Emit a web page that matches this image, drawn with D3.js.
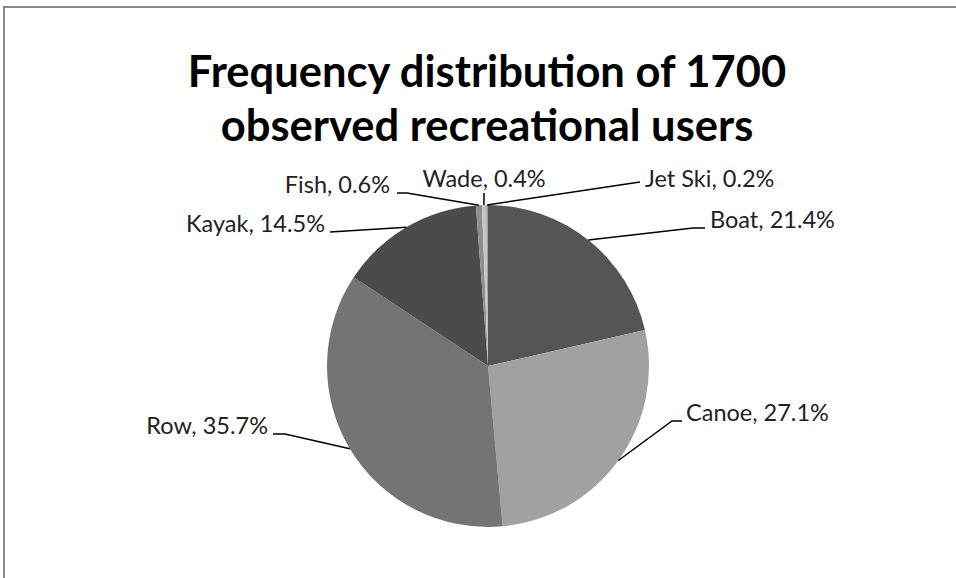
<!DOCTYPE html>
<html>
<head>
<meta charset="utf-8">
<script src="https://cdn.jsdelivr.net/npm/d3@7"></script>
<style>
  html, body { margin: 0; padding: 0; background: #fff; }
  svg { display: block; }
</style>
</head>
<body>
<svg id="chart" width="956" height="578"></svg>
<script>
// ---- data ----
const categories = ["Boat", "Canoe", "Row", "Kayak", "Fish", "Wade", "Jet Ski"];
const percents   = [21.4, 27.1, 35.7, 14.5, 0.6, 0.4, 0.2];
const titleLines = ["Frequency distribution of 1700", "observed recreational users"];

// ---- styles / layout (not data) ----
const sliceColors = ["#555555", "#a1a1a1", "#747474", "#4b4b4b", "#8e8e8e", "#c6c6c6", "#a3a3a3"];
// label layout: elbow offset & line end relative to pie centre
const labelLayout = [
  { elbow: [205, -138], end: [217, -138], anchor: "start", dx: 5 },   // Boat
  { elbow: [184, 55],   end: [194, 55],   anchor: "start", dx: 4 },   // Canoe
  { elbow: [-203, 68],  end: [-215, 68],  anchor: "end",   dx: -5 },  // Row
  { elbow: [-158, -134],end: [-158, -134],anchor: "end",   dx: -5 },  // Kayak
  { elbow: [-81, -173], end: [-91, -173], anchor: "end",   dx: -7 },  // Fish
  { elbow: [-4, -173],  end: [-4, -173],  anchor: "middle",dx: 0, dy: -6 }, // Wade
  { elbow: [152, -184], end: [152, -184], anchor: "start", dx: 5, dy: 5 }   // Jet Ski
];

const svg = d3.select("#chart");
const W = 956, H = 578;

// chart frame
svg.append("path")
  .attr("d", `M4,${H} L4,7 L${W},7`)
  .attr("fill", "none")
  .attr("stroke", "#8a8a8a")
  .attr("stroke-width", 2);

// title
const title = svg.append("text")
  .attr("text-anchor", "middle")
  .attr("font-family", "Lato, 'Open Sans', sans-serif")
  .attr("font-weight", "bold")
  .attr("font-size", 43.5)
  .attr("fill", "#000");
titleLines.forEach((t, i) => {
  title.append("tspan").attr("x", 487).attr("y", 87 + i * 54).text(t);
});

// pie
const cx = 488, cy = 366, R = 161;
const data = categories.map((c, i) => ({ name: c, value: percents[i], i }));
const pie = d3.pie().sort(null).value(d => d.value).startAngle(0).endAngle(2 * Math.PI);
const arcs = pie(data);
const arc = d3.arc().innerRadius(0).outerRadius(R);

const g = svg.append("g").attr("transform", `translate(${cx},${cy})`);
g.selectAll("path.slice")
  .data(arcs)
  .join("path")
  .attr("class", "slice")
  .attr("d", arc)
  .attr("fill", d => sliceColors[d.data.i]);

// labels with leader lines
const labelG = g.append("g");
arcs.forEach(a => {
  const L = labelLayout[a.data.i];
  const mid = (a.startAngle + a.endAngle) / 2;
  const p0 = [R * Math.sin(mid), -R * Math.cos(mid)];
  labelG.append("path")
    .attr("d", d3.line()([p0, L.elbow, L.end]))
    .attr("fill", "none")
    .attr("stroke", "#000")
    .attr("stroke-width", 1.5);
  labelG.append("text")
    .attr("x", L.end[0] + L.dx)
    .attr("y", L.end[1] + (L.dy || 0))
    .attr("text-anchor", L.anchor)
    .attr("font-family", "Lato, 'Open Sans', sans-serif")
    .attr("font-size", 23.5)
    .attr("fill", "#222")
    .text(`${a.data.name}, ${d3.format(".1f")(a.data.value)}%`);
});
</script>
</body>
</html>
